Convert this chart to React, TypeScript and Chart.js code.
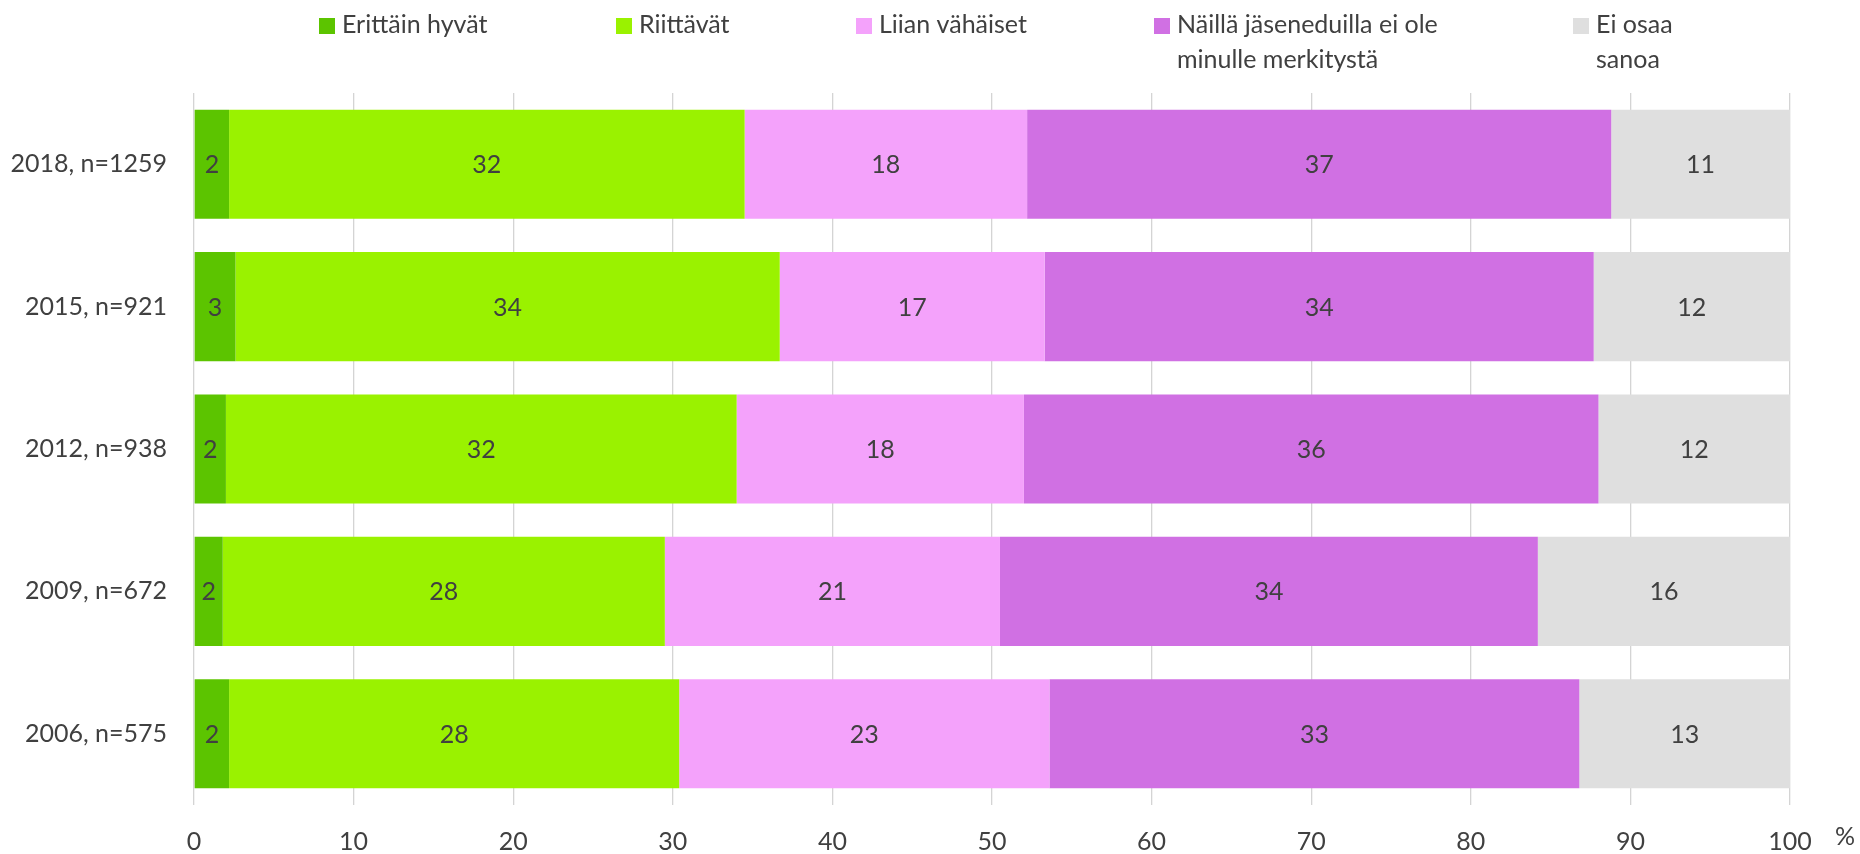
import React, { useEffect, useRef } from "react";
import { Chart, registerables } from "chart.js";

Chart.register(...registerables);

// ---- Data ----
const categories = ["2018, n=1259", "2015, n=921", "2012, n=938", "2009, n=672", "2006, n=575"];
const seriesNames = [
  "Erittäin hyvät",
  "Riittävät",
  "Liian vähäiset",
  "Näillä jäseneduilla ei ole minulle merkitystä",
  "Ei osaa sanoa",
];
const legendLines = [
  ["Erittäin hyvät"],
  ["Riittävät"],
  ["Liian vähäiset"],
  ["Näillä jäseneduilla ei ole", "minulle merkitystä"],
  ["Ei osaa", "sanoa"],
];
const erittainHyvat = [2.2, 2.6, 2.0, 1.8, 2.2];
const riittavat = [32.3, 34.1, 32.0, 27.7, 28.2];
const liianVahaiset = [17.7, 16.6, 18.0, 21.0, 23.2];
const eiMerkitysta = [36.6, 34.4, 36.0, 33.7, 33.2];
const eiOsaa = [11.2, 12.3, 12.0, 15.8, 13.2];
const xTicks = [0, 10, 20, 30, 40, 50, 60, 70, 80, 90, 100];
const unitLabel = "%";

// ---- Styles ----
const seriesValues = [erittainHyvat, riittavat, liianVahaiset, eiMerkitysta, eiOsaa];
const seriesColors = ["#5CC400", "#9AF200", "#F4A2FB", "#D070E3", "#DFDFDF"];
const FONT_FAMILY = "Lato, 'Open Sans', sans-serif";
const FONT_SIZE = 25;
const TEXT_COLOR = "#404040";
const legendX = [319, 616, 856, 1154, 1573];

const labelsPlugin = {
  id: "segmentLabels",
  afterDatasetsDraw(chart: any) {
    const ctx = chart.ctx;
    ctx.save();
    ctx.font = `${FONT_SIZE}px ${FONT_FAMILY}`;
    ctx.fillStyle = TEXT_COLOR;
    ctx.textAlign = "center";
    ctx.textBaseline = "middle";
    chart.data.datasets.forEach((ds: any, di: number) => {
      const meta = chart.getDatasetMeta(di);
      meta.data.forEach((bar: any, i: number) => {
        const v = ds.data[i];
        const p = bar.getProps(["x", "base", "y"], true);
        const cx = (p.x + p.base) / 2;
        ctx.fillText(String(Math.round(v)), cx, p.y + 1);
      });
    });
    ctx.restore();
  },
};

const legendPlugin = {
  id: "customLegend",
  afterDraw(chart: any) {
    const ctx = chart.ctx;
    ctx.save();
    ctx.font = `${FONT_SIZE}px ${FONT_FAMILY}`;
    ctx.textAlign = "left";
    ctx.textBaseline = "alphabetic";
    legendLines.forEach((lines, i) => {
      const x = legendX[i];
      ctx.fillStyle = seriesColors[i];
      ctx.fillRect(x, 18, 16, 16);
      ctx.fillStyle = TEXT_COLOR;
      lines.forEach((line, li) => {
        ctx.fillText(line, x + 23, 33 + li * 35);
      });
    });
    // unit label
    const area = chart.chartArea;
    ctx.textAlign = "center";
    ctx.textBaseline = "middle";
    ctx.fillText(unitLabel, area.right + 55, area.bottom + 32);
    ctx.restore();
  },
};

export default function App() {
  const canvasRef = useRef<HTMLCanvasElement | null>(null);

  useEffect(() => {
    if (!canvasRef.current) return;
    const chart = new Chart(canvasRef.current, {
      type: "bar",
      data: {
        labels: categories,
        datasets: seriesNames.map((name, i) => ({
          label: name,
          data: seriesValues[i],
          backgroundColor: seriesColors[i],
          borderWidth: 0,
          categoryPercentage: 1,
          barPercentage: 0.766,
        })),
      },
      options: {
        animation: false,
        responsive: false,
        indexAxis: "y",
        layout: { padding: { top: 93, right: 70, left: 0, bottom: 0 } },
        plugins: {
          legend: { display: false },
          tooltip: { enabled: false },
        },
        scales: {
          x: {
            stacked: true,
            min: 0,
            max: 100,
            afterBuildTicks: (scale: any) => {
              scale.ticks = xTicks.map((v) => ({ value: v }));
            },
            ticks: {
              color: TEXT_COLOR,
              font: { family: FONT_FAMILY, size: FONT_SIZE },
              padding: 22,
              maxRotation: 0,
              autoSkip: false,
            },
            grid: { color: "#D4D4D4", lineWidth: 1.3, drawTicks: false },
            border: { display: false },
            afterFit: (scale: any) => {
              scale.height = 49;
            },
          },
          y: {
            stacked: true,
            ticks: {
              color: TEXT_COLOR,
              font: { family: FONT_FAMILY, size: FONT_SIZE },
              padding: 27,
            },
            grid: { display: false, drawTicks: false },
            border: { display: false },
            afterFit: (scale: any) => {
              scale.width = 194;
            },
          },
        },
      } as any,
      plugins: [labelsPlugin, legendPlugin],
    });
    return () => chart.destroy();
  }, []);

  return (
    <div style={{ position: "absolute", left: 0, top: 0, width: 1860, height: 854, background: "#fff" }}>
      <canvas ref={canvasRef} width={1860} height={854} style={{ display: "block" }} />
    </div>
  );
}
